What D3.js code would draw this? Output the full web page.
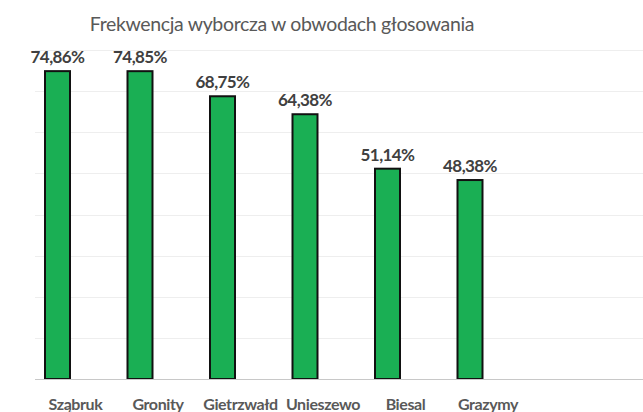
<!DOCTYPE html>
<html>
<head>
<meta charset="utf-8">
<script src="https://cdn.jsdelivr.net/npm/d3@7"></script>
<style>
  body { margin: 0; background: #fff; }
  svg { display: block; }
</style>
</head>
<body>
<div id="chart"></div>
<script>
// values
const districts = ['Sząbruk', 'Gronity', 'Gietrzwałd', 'Unieszewo', 'Biesal', 'Grazymy']
const turnout = [74.86, 74.85, 68.75, 64.38, 51.14, 48.38]
const gridTicks = [10, 20, 30, 40, 50, 60, 70, 80]

const width = 643
const height = 412
const plot = {left: 35, right: 643, top: 50, bottom: 379}
const fontFam = 'Lato, "Open Sans", sans-serif'

const svg = d3.select('#chart')
  .append('svg')
    .attr('width', width)
    .attr('height', height)

const step = 82.5
const x = d3.scaleBand()
  .domain(districts)
  .range([16.25, 16.25 + step * districts.length])
  .paddingInner(0.697)
  .paddingOuter(0.3485)

const y = d3.scaleLinear()
  .domain([0, 80])
  .range([plot.bottom, plot.top])

// title
svg.append('text')
  .attr('x', 282)
  .attr('y', 31)
  .attr('text-anchor', 'middle')
  .style('font-family', fontFam)
  .style('font-size', '19.5px')
  .style('letter-spacing', '-0.35px')
  .style('fill', '#595959')
  .text('Frekwencja wyborcza w obwodach głosowania')

// horizontal gridlines
svg.append('g')
  .selectAll('line')
  .data(gridTicks)
  .enter()
  .append('line')
    .attr('x1', plot.left)
    .attr('x2', plot.right)
    .attr('y1', d => Math.round(y(d)) + 0.5)
    .attr('y2', d => Math.round(y(d)) + 0.5)
    .style('stroke', '#eeeeee')
    .style('stroke-width', 1)

// bars
svg.append('g')
  .selectAll('rect')
  .data(turnout)
  .enter()
  .append('rect')
    .attr('x', (d, i) => x(districts[i]))
    .attr('y', d => y(d))
    .attr('width', x.bandwidth())
    .attr('height', d => y(0) - y(d))
    .style('fill', '#1aaf54')
    .style('stroke', '#111')
    .style('stroke-width', 2)

// baseline
svg.append('line')
  .attr('x1', plot.left)
  .attr('x2', plot.right)
  .attr('y1', Math.round(y(0)) + 0.5)
  .attr('y2', Math.round(y(0)) + 0.5)
  .style('stroke', '#c8c8c8')
  .style('stroke-width', 1)

// value labels
svg.append('g')
  .selectAll('text')
  .data(turnout)
  .enter()
  .append('text')
    .attr('x', (d, i) => x(districts[i]) + x.bandwidth() / 2)
    .attr('y', d => y(d) - 8)
    .attr('text-anchor', 'middle')
    .style('font-family', fontFam)
    .style('font-size', '17px')
    .style('letter-spacing', '-0.6px')
    .style('font-weight', 'bold')
    .style('fill', '#404040')
    .text(d => d.toFixed(2).replace('.', ',') + '%')

// category labels (shifted right, as in the source chart)
svg.append('g')
  .selectAll('text')
  .data(districts)
  .enter()
  .append('text')
    .attr('x', d => x(d) + x.bandwidth() / 2 + 18)
    .attr('y', 410)
    .attr('text-anchor', 'middle')
    .style('font-family', fontFam)
    .style('font-size', '16px')
    .style('letter-spacing', '-0.4px')
    .style('font-weight', 'bold')
    .style('fill', '#595959')
    .text(d => d)
</script>
</body>
</html>
